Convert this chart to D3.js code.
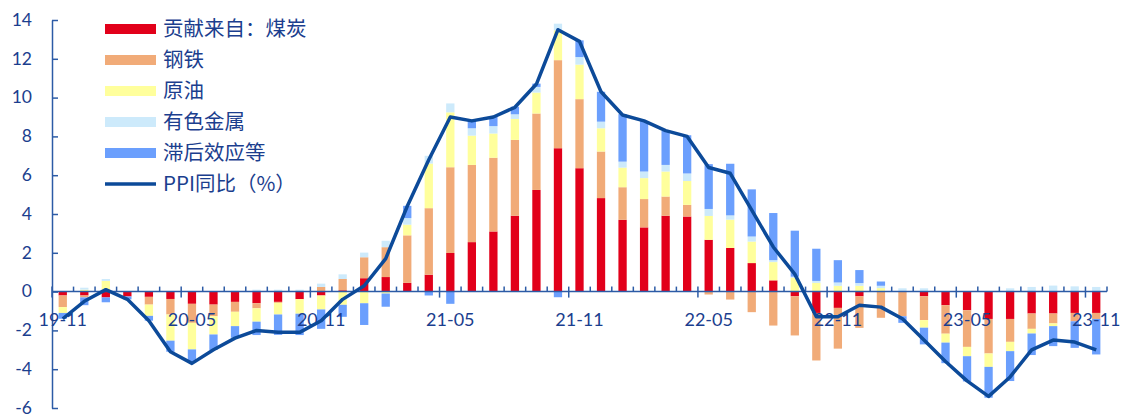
<!DOCTYPE html>
<html>
<head>
<meta charset="utf-8">
<script src="https://cdn.jsdelivr.net/npm/d3@7"></script>
<style>
  body { margin: 0; background: #fff; }
  text { font-family: Lato, "Noto Sans CJK SC", sans-serif; }
</style>
</head>
<body>
<svg id="chart" width="1136" height="417"></svg>
<script>
// month categories, 19-11 .. 23-11
const months = [
  '19-11', '19-12', '20-01', '20-02', '20-03', '20-04', '20-05', '20-06', '20-07', '20-08',
  '20-09', '20-10', '20-11', '20-12', '21-01', '21-02', '21-03', '21-04', '21-05', '21-06',
  '21-07', '21-08', '21-09', '21-10', '21-11', '21-12', '22-01', '22-02', '22-03', '22-04',
  '22-05', '22-06', '22-07', '22-08', '22-09', '22-10', '22-11', '22-12', '23-01', '23-02',
  '23-03', '23-04', '23-05', '23-06', '23-07', '23-08', '23-09', '23-10', '23-11'
];

// contributions (percentage points)
const coal = [
  -0.2, -0.2, -0.3, -0.25, -0.27, -0.38, -0.63, -0.67, -0.53, -0.6,
  -0.53, -0.39, -0.2, 0.07, 0.69, 0.75, 0.45, 0.87, 1.99, 2.55,
  3.1, 3.91, 5.24, 7.39, 6.36, 4.82, 3.7, 3.31, 3.91, 3.87,
  2.67, 2.25, 1.47, 0.58, -0.24, -1.1, -0.84, -0.24, 0, 0,
  -0.24, -0.7, -0.96, -1.41, -1.41, -1.13, -1.13, -1.1, -1.1
];
const steel = [
  -0.6, -0.1, 0.1, 0, -0.4, -0.8, -0.98, -0.6, -0.51, -0.26,
  -0.05, 0, 0.24, 0.58, 1.08, 1.54, 2.45, 3.43, 4.42, 3.98,
  3.8, 3.91, 3.94, 4.54, 3.56, 2.4, 1.68, 1.46, 0.99, 0.6,
  -0.15, -0.41, -1.06, -1.75, -2.02, -2.45, -2.1, -1.63, -1.35, -1.27,
  -1.23, -1.47, -1.89, -1.78, -1.18, -0.79, -0.51, -0.43, -0.31
];
const oil = [
  -0.3, 0.1, 0.45, 0, -0.58, -1.35, -1.37, -0.94, -0.74, -0.69,
  -0.6, -0.75, -0.72, -0.68, -0.6, -0.1, 0.55, 2.3, 2.83, 1.51,
  1.25, 1.08, 1.08, 1.54, 1.78, 1.2, 1.01, 1.08, 1.29, 1.23,
  1.23, 1.46, 1.11, 0.94, 0.72, 0.45, 0.3, 0.3, 0.18, 0,
  -0.39, -0.46, -0.48, -0.69, -0.48, -0.24, -0.14, 0, 0
];
const nonferrous = [
  0, 0.1, 0.1, 0, 0, 0, 0, 0, 0.05, 0.1,
  0.1, 0.1, 0.17, 0.24, 0.24, 0.33, 0.34, 0.4, 0.46, 0.38,
  0.38, 0.24, 0.29, 0.34, 0.39, 0.34, 0.31, 0.34, 0.34, 0.39,
  0.36, 0.22, 0.26, 0.1, 0.05, 0.1, 0.17, 0.14, 0.12, 0.17,
  0.17, 0, 0, 0, 0.17, 0.24, 0.31, 0.27, 0.24
];
const lagEtc = [
  -0.3, -0.4, -0.25, -0.15, -0.25, -0.57, -0.69, -0.8, -0.6, -0.69,
  -1.05, -1.1, -1.0, -0.62, -1.12, -0.68, 0.63, -0.2, -0.63, 0.38,
  0.48, 0.39, 0.17, -0.29, 0.86, 1.54, 2.45, 2.6, 1.77, 1.97,
  2.31, 2.66, 2.43, 2.43, 2.37, 1.66, 1.15, 0.67, 0.22, -0.34,
  -0.86, -1.06, -1.3, -1.59, -1.54, -1.11, -1.03, -1.37, -1.83
];
// PPI year on year (%)
const ppi = [
  -1.4, -0.5, 0.1, -0.4, -1.5, -3.1, -3.7, -3.0, -2.4, -2.0,
  -2.1, -2.1, -1.5, -0.4, 0.3, 1.7, 4.4, 6.8, 9.0, 8.8,
  9.0, 9.5, 10.7, 13.5, 12.9, 10.3, 9.1, 8.8, 8.3, 8.0,
  6.4, 6.1, 4.2, 2.3, 0.9, -1.3, -1.3, -0.7, -0.8, -1.4,
  -2.5, -3.6, -4.6, -5.4, -4.4, -3.0, -2.5, -2.6, -3.0
];

const seriesKeys = ['coal', 'steel', 'oil', 'nonferrous', 'lagEtc'];
const seriesNames = ['贡献来自：煤炭', '钢铁', '原油', '有色金属', '滞后效应等'];
const lineName = 'PPI同比（%）';
const yTicks = [-6, -4, -2, 0, 2, 4, 6, 8, 10, 12, 14];
const xTickLabels = ['19-11', '20-05', '20-11', '21-05', '21-11', '22-05', '22-11', '23-05', '23-11'];

const color = {
  coal: '#e2001a',
  steel: '#f1ab78',
  oil: '#ffff9c',
  nonferrous: '#cdeafb',
  lagEtc: '#6b9ffd',
  line: '#0c4a99',
  text: '#1b3e8e',
  axis: '#2c5ba6',
};

const svg = d3.select('#chart');
const plot = { left: 52, right: 1107, top: 20, bottom: 408 };

const x = d3.scaleBand()
  .domain(months)
  .range([plot.left, plot.right])
  .paddingInner(0.615)
  .paddingOuter(0.3075);

const y = d3.scaleLinear().domain([-6, 14]).range([plot.bottom, plot.top]);

// rows for the stack
const rows = months.map((m, i) => ({
  month: m,
  coal: coal[i],
  steel: steel[i],
  oil: oil[i],
  nonferrous: nonferrous[i],
  lagEtc: lagEtc[i],
}));

const stacked = d3.stack().keys(seriesKeys).offset(d3.stackOffsetDiverging)(rows);

// y axis, ticks point inward
const yAxis = svg.append('g')
  .attr('class', 'axis y')
  .attr('transform', `translate(${plot.left}, 0)`)
  .call(d3.axisLeft(y).tickValues(yTicks).tickSizeInner(-6).tickSizeOuter(0).tickPadding(20)
    .tickFormat((d) => `${d}`));
yAxis.select('.domain').attr('stroke', color.axis).attr('stroke-width', 1.5);
yAxis.selectAll('.tick line').attr('stroke', color.axis).attr('stroke-width', 1.5);
yAxis.selectAll('.tick text')
  .attr('fill', color.text)
  .attr('font-size', 17.5)
  .attr('dy', '0.3em')
  .style('font-family', 'Lato, sans-serif');

// stacked bars
svg.append('g')
  .attr('class', 'bars')
  .selectAll('g')
  .data(stacked)
  .join('g')
  .attr('fill', (s) => color[s.key])
  .selectAll('rect')
  .data((s) => s)
  .join('rect')
  .attr('x', (d) => x(d.data.month))
  .attr('width', x.bandwidth())
  .attr('y', (d) => y(d[1]))
  .attr('height', (d) => Math.max(0, y(d[0]) - y(d[1])));

// x axis line with ticks at category boundaries
const xAxis = svg.append('g').attr('class', 'axis x');
const step = x.step();
const bounds = d3.range(months.length + 1).map((i) => plot.left + i * step);

xAxis.append('line')
  .attr('x1', plot.left)
  .attr('x2', plot.right)
  .attr('y1', y(0))
  .attr('y2', y(0))
  .attr('stroke', color.axis)
  .attr('stroke-width', 1.5);

xAxis.selectAll('line.tick')
  .data(bounds)
  .join('line')
  .attr('class', 'tick')
  .attr('x1', (d) => d)
  .attr('x2', (d) => d)
  .attr('y1', y(0) - 5)
  .attr('y2', (d, i) => (i % 6 === 0 ? y(0) + 6 : y(0)))
  .attr('stroke', color.axis)
  .attr('stroke-width', 1.5);

xAxis.selectAll('text')
  .data(xTickLabels)
  .join('text')
  .attr('x', (d) => x(d) + x.bandwidth() / 2)
  .attr('y', y(0) + 34)
  .attr('text-anchor', 'middle')
  .attr('fill', color.text)
  .attr('font-size', 18)
  .style('font-family', 'Lato, sans-serif')
  .text((d) => d);

// PPI line
const line = d3.line()
  .x((d, i) => x(months[i]) + x.bandwidth() / 2)
  .y((d) => y(d));

svg.append('path')
  .datum(ppi)
  .attr('fill', 'none')
  .attr('stroke', color.line)
  .attr('stroke-width', 3.5)
  .attr('stroke-linejoin', 'round')
  .attr('d', line);

// legend
const legend = svg.append('g').attr('class', 'legend').attr('transform', 'translate(105, 29)');
const rowGap = 31;

const item = legend.selectAll('g.item')
  .data(seriesKeys)
  .join('g')
  .attr('class', 'item')
  .attr('transform', (d, i) => `translate(0, ${i * rowGap})`);

item.append('rect')
  .attr('x', 0)
  .attr('y', -5)
  .attr('width', 51)
  .attr('height', 10)
  .attr('fill', (d) => color[d]);

item.append('text')
  .attr('x', 58)
  .attr('y', 7)
  .attr('fill', color.text)
  .attr('font-size', 20.5)
  .style('font-family', '"Noto Sans CJK SC", sans-serif')
  .text((d, i) => seriesNames[i]);

const lineItem = legend.append('g').attr('transform', `translate(0, ${seriesKeys.length * rowGap})`);
lineItem.append('line')
  .attr('x1', 0)
  .attr('x2', 51)
  .attr('stroke', color.line)
  .attr('stroke-width', 3.5);
lineItem.append('text')
  .attr('x', 58)
  .attr('y', 7)
  .attr('fill', color.text)
  .attr('font-size', 20.5)
  .style('font-family', '"Noto Sans CJK SC", sans-serif')
  .text(lineName);
</script>
</body>
</html>
